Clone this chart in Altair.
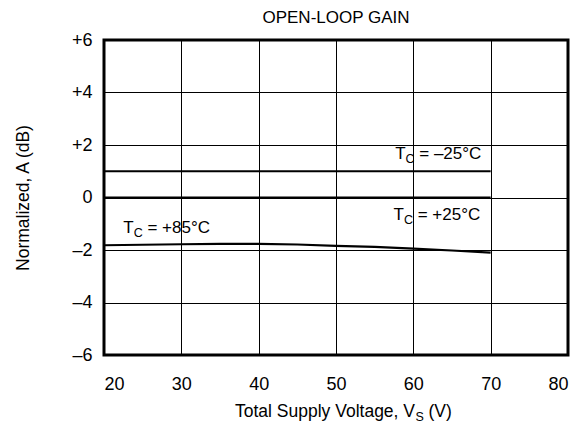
import altair as alt
import pandas as pd

# Data
volts = [20, 25, 30, 35, 40, 45, 50, 55, 60, 65, 70]
gain_85 = [-1.82, -1.80, -1.78, -1.77, -1.77, -1.79, -1.84, -1.88, -1.95, -2.02, -2.10]
gain_m25 = [1.0] * len(volts)
gain_25 = [0.0] * len(volts)

x_ticks = [20, 30, 40, 50, 60, 70, 80]
y_ticks = [-6, -4, -2, 0, 2, 4, 6]

ann_labels = ["= \u201325\u00b0C", "= +25\u00b0C", "= +85\u00b0C"]
ann_x = [57.65, 57.45, 22.5]
ann_y = [1.66, -0.67, -1.18]

FONT = "Liberation Sans"
FS_TICK = 18
FS_ANN = 17
FS_SUB = 12.5
FS_AX = 17.5

rows = []
for name, vals in [("m25", gain_m25), ("p25", gain_25), ("p85", gain_85)]:
    for v, g in zip(volts, vals):
        rows.append({"V": v, "A": g, "series": name})
df = pd.DataFrame(rows)
ann = pd.DataFrame({"x": ann_x, "y": ann_y, "rest": ann_labels})

W, H = 464, 315
xs = alt.Scale(domain=[20, 80], nice=False)
ys = alt.Scale(domain=[-6, 6], nice=False)

xax = alt.Axis(values=x_ticks, grid=True, gridColor="black", gridWidth=1, gridOpacity=1,
               ticks=False, domain=False, labelFont=FONT, labelFontSize=FS_TICK, labelColor="black",
               labelPadding=20, title=None)
yax = alt.Axis(values=y_ticks, grid=True, gridColor="black", gridWidth=1, gridOpacity=1,
               ticks=False, domain=False, labelFont=FONT, labelFontSize=FS_TICK, labelColor="black",
               labelPadding=12, title=None,
               labelExpr="datum.value > 0 ? '+' + datum.value : (datum.value < 0 ? '\u2013' + abs(datum.value) : '0')")

lines = alt.Chart(df).mark_line(color="black", strokeWidth=2.2).encode(
    x=alt.X("V:Q", scale=xs, axis=xax),
    y=alt.Y("A:Q", scale=ys, axis=yax),
    detail="series:N",
)

base_ann = alt.Chart(ann)
t_T = base_ann.mark_text(font=FONT, fontSize=FS_ANN, align="left", baseline="middle", color="black").encode(
    x=alt.X("x:Q", scale=xs), y=alt.Y("y:Q", scale=ys), text=alt.value("T"))
t_C = base_ann.mark_text(font=FONT, fontSize=FS_SUB, align="left", baseline="middle", color="black", dx=10.4, dy=5).encode(
    x=alt.X("x:Q", scale=xs), y=alt.Y("y:Q", scale=ys), text=alt.value("C"))
t_rest = base_ann.mark_text(font=FONT, fontSize=FS_ANN, align="left", baseline="middle", color="black", dx=24.1).encode(
    x=alt.X("x:Q", scale=xs), y=alt.Y("y:Q", scale=ys), text="rest:N")

one = pd.DataFrame({"k": [0]})
title = alt.Chart(one).mark_text(font=FONT, fontSize=17, align="center", baseline="middle", color="black").encode(
    x=alt.value(232), y=alt.value(-22), text=alt.value("OPEN-LOOP GAIN"))
ytitle = alt.Chart(one).mark_text(font=FONT, fontSize=FS_AX, align="center", baseline="middle", color="black", angle=270).encode(
    x=alt.value(-80), y=alt.value(158), text=alt.value("Normalized, A (dB)"))
X0 = 311
xt1 = alt.Chart(one).mark_text(font=FONT, fontSize=FS_AX, align="right", baseline="middle", color="black").encode(
    x=alt.value(X0), y=alt.value(372), text=alt.value("Total Supply Voltage, V"))
xt2 = alt.Chart(one).mark_text(font=FONT, fontSize=FS_SUB, align="left", baseline="middle", color="black").encode(
    x=alt.value(X0 + 0.5), y=alt.value(377), text=alt.value("S"))
xt3 = alt.Chart(one).mark_text(font=FONT, fontSize=FS_AX, align="left", baseline="middle", color="black").encode(
    x=alt.value(X0 + 13.5), y=alt.value(372), text=alt.value("(V)"))

chart = alt.layer(lines, t_T, t_C, t_rest, title, ytitle, xt1, xt2, xt3).properties(
    width=W, height=H,
    autosize=alt.AutoSizeParams(type="none"),
    padding={"left": 96, "top": 32, "right": 11, "bottom": 71},
    background="white",
).configure_view(stroke="black", strokeWidth=3)

chart.save("out.html", embed_options={"renderer": "svg", "actions": False})
